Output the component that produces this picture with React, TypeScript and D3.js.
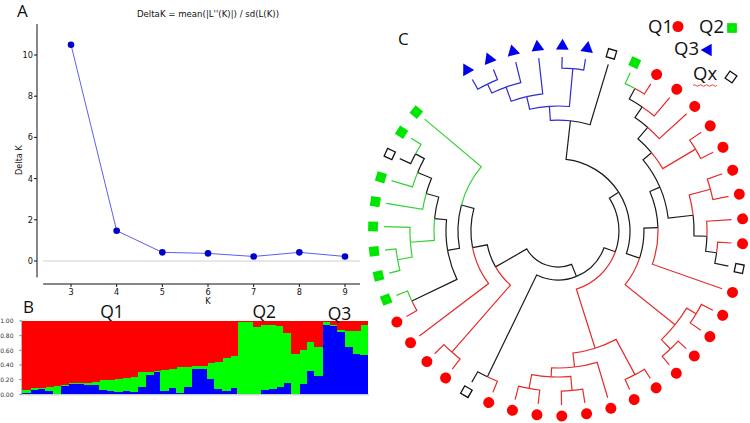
import React from 'react';
import * as d3 from 'd3';

// ---------- Panel A data ----------
const kValues = [3, 4, 5, 6, 7, 8, 9];
const deltaK = [10.5, 1.47, 0.42, 0.37, 0.22, 0.42, 0.22];
const deltaKTicks = [0, 2, 4, 6, 8, 10];

// ---------- Panel B data (membership shares per individual) ----------
const blueShare = [0.02, 0.06, 0.07, 0.04, 0.01, 0.11, 0.14, 0.14, 0.13, 0.13, 0.06, 0.04, 0.03, 0.04, 0.03,
  0.10, 0.26, 0.31, 0.05, 0.08, 0.02, 0.10, 0.35, 0.35, 0.21, 0.07, 0.04, 0.09, 0.00, 0.00,
  0.01, 0.06, 0.07, 0.10, 0.15, 0.00, 0.14, 0.32, 0.25, 0.95, 0.93, 0.85, 0.65, 0.55, 0.54];
const greenShare = [0.04, 0.02, 0.01, 0.06, 0.10, 0.02, 0.01, 0.02, 0.03, 0.04, 0.13, 0.16, 0.18, 0.18, 0.20,
  0.20, 0.04, 0.01, 0.28, 0.26, 0.35, 0.27, 0.03, 0.04, 0.22, 0.37, 0.45, 0.43, 0.98, 0.98,
  0.91, 0.89, 0.87, 0.83, 0.68, 0.55, 0.47, 0.39, 0.39, 0.03, 0.02, 0.03, 0.22, 0.31, 0.40];
const shareTicks = [0, 0.2, 0.4, 0.6, 0.8, 1.0];
const clusterLabels = ['Q1', 'Q2', 'Q3'];
const clusterLabelBar = [11.2, 31.0, 40.8];

// ---------- Panel C data (dendrogram, Newick with node depths) ----------
const cladeQ3 = '(((((1,2):0.920,3):0.848,4):0.739,(5,6):0.920):0.645,7):0.543';
const cladeRight = '(((((((8,9):0.913,10):0.826,11):0.732,(12,13):0.899):0.623,((14,15):0.884,(16,(17,18):0.899):0.819):0.725):0.543,19):0.464,((20,21):0.906,(22,23):0.920):0.826):0.362';
const cladeBottom = '((24,25):0.920,(26,((27,28):0.899,(29,30):0.899):0.797):0.732):0.630';
const cladeLeft = '((33,34):0.906,(35,(((36,37):0.913,(((38,39):0.920,40):0.812,(41,(42,(43,44):0.913):0.841):0.732):0.638):0.551,45):0.464):0.370):0.261';
const treeNewick = `((((${cladeQ3},${cladeRight}):0.261,${cladeBottom}):0.181,(31,32):0.913):0.094,${cladeLeft}):0`;
const leafGroups = [
  'Q3', 'Q3', 'Q3', 'Q3', 'Q3', 'Q3', 'Qx', 'Q2',
  'Q1', 'Q1', 'Q1', 'Q1', 'Q1', 'Q1', 'Q1', 'Q1', 'Q1', 'Qx',
  'Q1', 'Q1', 'Q1', 'Q1', 'Q1', 'Q1', 'Q1', 'Q1', 'Q1', 'Q1', 'Q1', 'Q1', 'Q1', 'Qx',
  'Q1', 'Q1', 'Q1', 'Q1', 'Q2', 'Q2', 'Q2', 'Q2', 'Q2', 'Q2', 'Qx', 'Q2', 'Q2'];
const groupNames = ['Q1', 'Q2', 'Q3', 'Qx'];

const markColor: Record<string, string> = { Q1: '#ff0000', Q2: '#00e600', Q3: '#0000ee', Qx: '#111111' };
const branchColor: Record<string, string> = { Q1: '#e52b2b', Q2: '#35d035', Q3: '#2b2bd0', Qx: '#1a1a1a' };

function parseNewick(s: string) {
  let i = 0;
  function node(): any {
    const n: any = {};
    if (s[i] === '(') {
      i++;
      n.children = [node()];
      while (s[i] === ',') { i++; n.children.push(node()); }
      i++;
    }
    let name = '';
    while (i < s.length && !',():'.includes(s[i])) name += s[i++];
    if (name) n.name = name;
    if (s[i] === ':') {
      i++;
      let v = '';
      while (i < s.length && !',()'.includes(s[i])) v += s[i++];
      n.depth = +v;
    }
    if (!n.children) n.depth = 1;
    return n;
  }
  return node();
}

const FONT = "'Open Sans', 'DejaVu Sans', sans-serif";

function PanelA() {
  const x = d3.scaleLinear().domain([3, 9]).range([71, 345]);
  const y = d3.scaleLinear().domain([0, 10]).range([261, 55]);
  const line = d3.line<number>().x((_, i) => x(kValues[i])).y((d) => y(d));
  const f = "'DejaVu Sans', sans-serif";
  return (
    <g>
      <text x={17} y={17} fontFamily={FONT} fontSize={17} fill="#111">A</text>
      <text x={208} y={17} fontFamily={f} fontSize={8.6} textAnchor="middle" fill="#111">
        {"DeltaK = mean(|L''(K)|) / sd(L(K))"}
      </text>
      <line x1={37} x2={37} y1={y(11.5)} y2={y(-0.8)} stroke="#111" strokeWidth={1} />
      <line x1={x(2.39)} x2={x(9.33)} y1={284} y2={284} stroke="#111" strokeWidth={1} />
      <line x1={x(2.39)} x2={x(9.33)} y1={y(0)} y2={y(0)} stroke="#cfcfcf" strokeWidth={1} />
      {deltaKTicks.map((t) => (
        <g key={t}>
          <line x1={34} x2={37} y1={y(t)} y2={y(t)} stroke="#111" />
          <text x={33} y={y(t) + 3} fontFamily={f} fontSize={8.2} textAnchor="end" fill="#111">{t}</text>
        </g>
      ))}
      {kValues.map((k) => (
        <g key={k}>
          <line x1={x(k)} x2={x(k)} y1={284} y2={287} stroke="#111" />
          <text x={x(k)} y={295} fontFamily={f} fontSize={8.2} textAnchor="middle" fill="#111">{k}</text>
        </g>
      ))}
      <text x={208} y={304} fontFamily={f} fontSize={8.2} textAnchor="middle" fill="#111">K</text>
      <text transform={`translate(22,${y(4.9)}) rotate(-90)`} fontFamily={f} fontSize={8.2} textAnchor="middle" fill="#111">Delta K</text>
      <path d={line(deltaK) || ''} fill="none" stroke="#5e5ef0" strokeWidth={1} />
      {deltaK.map((v, i) => (
        <circle key={i} cx={x(kValues[i])} cy={y(v)} r={3.3} fill="#0000cc" />
      ))}
    </g>
  );
}

function PanelB() {
  const rows = blueShare.map((b, i) => ({ i, blue: b, green: greenShare[i], red: Math.max(0, 1 - b - greenShare[i]) }));
  const x = d3.scaleBand<number>().domain(rows.map((r) => r.i)).range([22, 368]).padding(0);
  const y = d3.scaleLinear().domain([0, 1]).range([394.3, 321]);
  const stack = d3.stack<any>().keys(['blue', 'green', 'red']);
  const series = stack(rows);
  const fills: Record<string, string> = { blue: '#0000ff', green: '#00ff00', red: '#ff0000' };
  const bw = x.bandwidth();
  return (
    <g>
      <text x={23} y={313} fontFamily={FONT} fontSize={17} fill="#111">B</text>
      <g shapeRendering="crispEdges">
        {series.map((s) => (
          <g key={s.key}>
            {s.map((d, j) => (
              <rect key={j} x={x(j)!} width={j === rows.length - 1 ? bw : bw + 1} y={y(d[1])} height={Math.max(0, y(d[0]) - y(d[1]))} fill={fills[s.key]} />
            ))}
          </g>
        ))}
      </g>
      <line x1={21.5} x2={21.5} y1={320} y2={395} stroke="#bbb" strokeWidth={1} />
      <line x1={21} x2={369} y1={394.8} y2={394.8} stroke="#bbb" strokeWidth={1} />
      {shareTicks.map((t) => (
        <g key={t}>
          <line x1={19.5} x2={21.5} y1={y(t)} y2={y(t)} stroke="#777" />
          <text x={13.5} y={y(t) + 2.2} fontFamily="'DejaVu Sans', sans-serif" fontSize={6} textAnchor="end" fill="#333">{d3.format('.2f')(t)}</text>
        </g>
      ))}
      {clusterLabels.map((l, i) => (
        <text key={l} x={x(0)! + bw * (clusterLabelBar[i] + 0.5)} y={i === 2 ? 320 : 318} fontFamily={FONT} fontSize={17.5} textAnchor="middle" fill="#111">{l}</text>
      ))}
    </g>
  );
}

function symbolPath(group: string) {
  if (group === 'Q1') return d3.symbol(d3.symbolCircle, 95)()!;
  if (group === 'Q2') return d3.symbol(d3.symbolSquare, 95)()!;
  if (group === 'Q3') return d3.symbol(d3.symbolTriangle, 70)()!;
  return d3.symbol(d3.symbolSquare, 72)()!;
}

function Mark({ group, x, y, rot }: { group: string; x: number; y: number; rot: number }) {
  const open = group === 'Qx';
  return (
    <path d={symbolPath(group)} transform={`translate(${x},${y}) rotate(${rot})`}
      fill={open ? 'white' : markColor[group]} stroke={open ? '#111' : 'none'} strokeWidth={open ? 1.3 : 0} />
  );
}

function PanelC() {
  const cx = 558, cy = 231;
  const root = d3.hierarchy(parseNewick(treeNewick));
  const nLeaves = root.leaves().length;
  const step = 339.5 / (nLeaves - 1);
  d3.cluster<any>().size([step * nLeaves, 1]).separation(() => 1)(root);
  const rotation = 330.5 - step / 2;
  const r = d3.scaleLinear().domain([0, 1]).range([36, 174]);
  const ang = (d: any) => d.x + rotation;
  const toRad = (deg: number) => ((deg - 90) * Math.PI) / 180;
  const pt = (deg: number, rr: number) => [cx + rr * Math.cos(toRad(deg)), cy + rr * Math.sin(toRad(deg))];
  const colorOf = (d: any) => {
    const gs = new Set(d.leaves().map((l: any) => leafGroups[+l.data.name - 1]));
    if (gs.size === 1) return branchColor[[...gs][0] as string];
    return branchColor.Qx;
  };
  const links = root.descendants().filter((d) => d.parent).map((d: any) => {
    const p: any = d.parent;
    const rp = r(p.data.depth), rd = r(d.data.depth);
    const a0 = ang(p), a1 = ang(d);
    const path = d3.path();
    const s = pt(a0, rp);
    path.moveTo(s[0], s[1]);
    path.arc(cx, cy, rp, toRad(a0), toRad(a1), a1 < a0);
    const e = pt(a1, rd);
    path.lineTo(e[0], e[1]);
    return { d: path.toString(), color: colorOf(d) };
  });
  const order = (c: string) => (c === branchColor.Qx ? 0 : 1);
  links.sort((a, b) => order(a.color) - order(b.color));
  const leaves = root.leaves();
  return (
    <g>
      <text x={398} y={45} fontFamily={FONT} fontSize={17} fill="#111">C</text>
      {links.map((l, i) => (
        <path key={i} d={l.d} fill="none" stroke={l.color} strokeWidth={1.2} />
      ))}
      {leaves.map((d: any, i) => {
        const g = leafGroups[+d.data.name - 1];
        const a = ang(d);
        const p = pt(a, 185);
        return <Mark key={i} group={g} x={p[0]} y={p[1]} rot={a} />;
      })}
      {/* legend */}
      <g fontFamily={FONT} fontSize={18.5} fill="#111">
        <text x={648} y={33}>{groupNames[0]}</text>
        <Mark group="Q1" x={678} y={26.5} rot={0} />
        <text x={699} y={33}>{groupNames[1]}</text>
        <Mark group="Q2" x={732} y={28} rot={0} />
        <text x={674} y={55}>{groupNames[2]}</text>
        <Mark group="Q3" x={708} y={50} rot={-90} />
        <text x={693} y={80}>{groupNames[3]}</text>
        <path d="M693,85.5 q1.5,-1.5 3,0 t3,0 t3,0 t3,0 t3,0 t3,0 t3,0 t3,0" fill="none" stroke="#e03030" strokeWidth={0.9} />
        <Mark group="Qx" x={731} y={77} rot={35} />
      </g>
    </g>
  );
}

export default function App() {
  return (
    <div style={{ position: 'absolute', left: 0, top: 0 }}>
      <svg width={750} height={423} viewBox="0 0 750 423" style={{ display: 'block', background: '#fff' }}>
        <rect width={750} height={423} fill="#fff" />
        <PanelA />
        <PanelB />
        <PanelC />
      </svg>
    </div>
  );
}
